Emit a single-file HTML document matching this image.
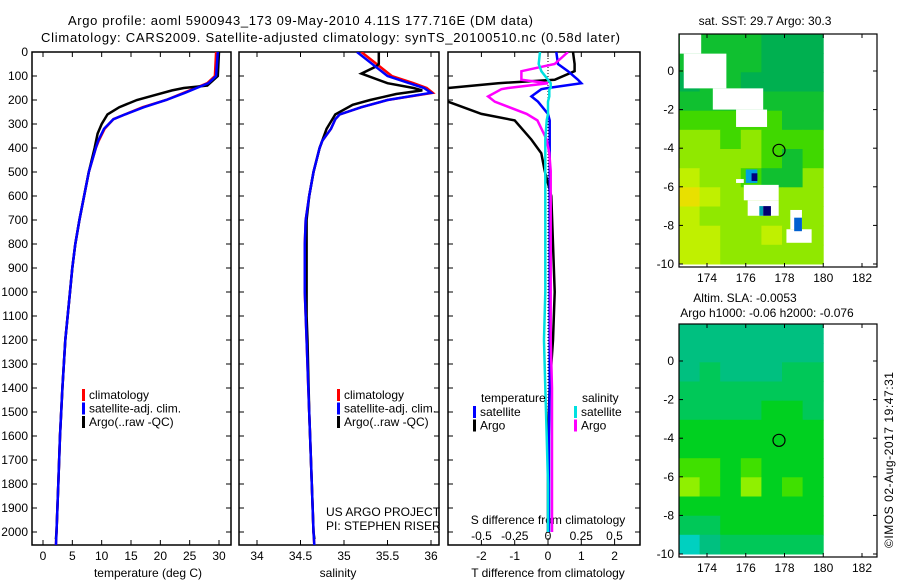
<!DOCTYPE html>
<html><head><meta charset="utf-8"><style>
html,body{margin:0;padding:0;background:#fff;}
svg{display:block;font-family:"Liberation Sans",sans-serif;}
text{font-size:12px;fill:#000;}
</style></head><body>
<svg id="chart" width="900" height="580" viewBox="0 0 900 580">
<defs>
<clipPath id="c1"><rect x="32" y="52" width="199" height="493"/></clipPath>
<clipPath id="c2"><rect x="239" y="52" width="200" height="493"/></clipPath>
<clipPath id="c3"><rect x="448" y="52" width="192" height="493"/></clipPath>
</defs>
<text x="68" y="25" textLength="465" style="font-size:13px">Argo profile: aoml 5900943_173 09-May-2010 4.11S 177.716E (DM data)</text>
<text x="41" y="42" textLength="579" style="font-size:13px">Climatology: CARS2009. Satellite-adjusted climatology: synTS_20100510.nc (0.58d later)</text>
<g id="g"></g>
<text transform="translate(893,548) rotate(-90)" style="font-size:12px" textLength="176">©IMOS 02-Aug-2017 19:47:31</text>
</svg>
<script>
// ---- data ----
const depthTicks=[0,100,200,300,400,500,600,700,800,900,1000,1100,1200,1300,1400,1500,1600,1700,1800,1900,2000];
const tTicks=[0,5,10,15,20,25,30];
const sTicks=[34,34.5,35,35.5,36];
const sTickLabels=["34","34.5","35","35.5","36"];
const dtTicks=[-2,-1,0,1,2];
const dsTicks=[-0.5,-0.25,0,0.25,0.5];
const dsTickLabels=["-0.5","-0.25","0","0.25","0.5"];
const lonTicks=[174,176,178,180,182];
const latTicks=[0,-2,-4,-6,-8,-10];

const climDepth=[0,100,130,150,170,200,230,260,280,320,370,400,500,600,700,800,900,1000,1200,1400,1600,1800,2000,2060];
const climT=[29.5,29.3,28,26,24,21,17,14,12,10.5,9.5,9,7.8,7,6.2,5.5,5,4.6,3.8,3.3,2.9,2.6,2.3,2.2];
const satT=[29.8,29.5,28.2,26.2,24.2,21,17.2,14,12,10.4,9.4,9,7.8,7,6.2,5.5,5,4.6,3.8,3.3,2.9,2.6,2.3,2.2];
const argoDepth=[0,100,140,150,160,180,200,230,260,300,340,400,500,600,700,800,900,1000,1200,1400,1600,1800,2000,2030];
const argoT=[30,29.8,28,24,22,19,16,13,11,10,9.3,8.8,7.8,7,6.2,5.5,5,4.6,3.8,3.3,2.9,2.6,2.3,2.2];

const climS=[35.2,35.55,35.8,35.95,36.02,35.5,35.2,34.95,34.9,34.85,34.75,34.72,34.65,34.6,34.56,34.55,34.55,34.55,34.57,34.59,34.61,34.63,34.65,34.66];
const satS=[35.15,35.5,35.75,35.92,36.0,35.5,35.2,34.95,34.9,34.85,34.75,34.72,34.65,34.6,34.56,34.55,34.55,34.55,34.57,34.59,34.61,34.63,34.65,34.66];
const argoSDepth=[0,50,60,90,130,150,160,175,200,220,260,320,400,500,600,700,1100,1200,1500,1800,2000,2030];
const argoS=[35.4,35.4,35.37,35.2,35.5,35.8,35.9,35.6,35.3,35.1,34.9,34.8,34.72,34.65,34.6,34.57,34.57,34.58,34.6,34.63,34.65,34.66];

const dDepth=[0,50,80,116,130,150,155,185,207,258,285,365,422,495,600,800,1000,1200,1400,1600,1800,2000];
const dTargo=[0.75,0.8,0.8,0.2,-1.5,-3,-3.2,-3.2,-3,-2,-1,-0.5,-0.2,-0.1,0.1,0.15,0.2,0.15,0.05,0,0,0];
const dTsat=[0.25,0.3,0.6,0.9,1.0,0,-0.2,-0.5,-0.3,0,0.05,0.05,0.05,0.05,0.05,0.05,0.05,0.05,0.05,0.03,0.03,0.03];
const dSargo=[0.15,0.05,-0.2,-0.2,0,-0.3,-0.35,-0.45,-0.4,-0.16,-0.08,-0.01,0.01,0.02,0.02,0.02,0.02,0.02,0.03,0.03,0.03,0.03];
const dSsat=[-0.06,-0.07,-0.05,0,0.02,0.02,0.01,0.01,0,0,-0.01,-0.02,-0.02,-0.02,-0.02,-0.02,-0.02,-0.03,-0.02,-0.01,0,0];

const sstPalette=["#00c8a0","#00b050","#10c030","#40d800","#90e800","#c0f000","#e8e000","#f0c000"];
const sstGrid=[
[2,2,2,2,1,1,1],[2,2,2,2,1,1,1],[1,2,2,1,1,1,1],[2,2,2,2,2,2,2],
[3,3,3,3,3,2,2],[4,4,3,4,3,3,3],[4,4,4,4,3,2,3],[5,4,4,3,2,2,4],
[6,5,4,4,4,4,4],[5,4,4,4,4,4,4],[5,5,4,4,5,4,4],[5,5,4,4,4,4,4]];
const slaPalette=["#00d0c0","#00c080","#00c858","#00d020","#40e000","#90f000"];
const slaGrid=[
[1,1,1,1,1,1,1],[1,1,1,1,1,1,1],[1,2,1,1,1,2,2],[2,2,2,2,2,2,2],
[2,2,2,2,3,3,2],[3,3,3,3,3,3,3],[3,3,3,3,3,3,3],[4,4,3,4,3,3,3],
[5,4,3,5,3,4,3],[3,3,3,3,3,3,3],[2,2,3,3,3,3,3],[0,1,2,2,2,2,2]];
// white (no data) patches: lon0,lon1,lat0,lat1
const sstMask=[[172.6,173.7,1.9,0.9],[172.8,175,0.9,-0.9],[174.3,176.9,-0.9,-2],[175.5,177.1,-2,-2.9],
[175.9,177.7,-5.9,-6.7],[176.1,177.7,-6.7,-7.5],[175.5,175.9,-5.6,-5.8],[178.3,178.9,-7.2,-8.2],[178.1,179.4,-8.2,-8.9]];
const sstSpots=[[176,176.6,-5.1,-5.8,"#00a0e0"],[176.3,176.6,-5.3,-5.7,"#000080"],[176.7,176.9,-7,-7.5,"#00a0b0"],[176.9,177.3,-7,-7.5,"#000070"],[178.5,178.9,-7.6,-8.3,"#0060d0"]];
const argoLon=177.716, argoLat=-4.11;

// ---- drawing ----
const NS="http://www.w3.org/2000/svg";
const G=document.getElementById('g');
function mk(tag,at,parent){const e=document.createElementNS(NS,tag);for(const k in at)e.setAttribute(k,at[k]);(parent||G).appendChild(e);return e;}
const yD=d=>52+d*0.24;
const xT=t=>43+t*5.867;
const xS=s=>257+(s-34)*87;
const xDT=v=>548+v*33.3;
const xDS=v=>548+v*133;

function frame(x0,x1,name){
  const r=mk('rect',{x:x0,y:52,width:x1-x0,height:493,fill:'none',stroke:'#000','stroke-width':1.5});
  
  
  depthTicks.forEach(d=>{mk('line',{x1:x0,x2:x0+5,y1:yD(d),y2:yD(d),stroke:'#000'});mk('line',{x1:x1,x2:x1-5,y1:yD(d),y2:yD(d),stroke:'#000'});});
}
function line(xs,ds,xf,color,clip,name){
  const pts=xs.map((v,i)=>xf(v).toFixed(1)+','+yD(ds[i]).toFixed(1)).join(' ');
  const p=mk('polyline',{points:pts,fill:'none',stroke:color,'stroke-width':2.5,'clip-path':'url(#'+clip+')'});
  
  
}
function txt(x,y,s,anchor,name,size){const t=mk('text',{x:x,y:y,'text-anchor':anchor||'start'});if(size)t.style.fontSize=size+'px';t.textContent=s;return t;}
function xtick(x,lab,name,top){mk('line',{x1:x,x2:x,y1:545,y2:540,stroke:'#000'});if(top!==false)mk('line',{x1:x,x2:x,y1:52,y2:57,stroke:'#000'});if(lab!==null)txt(x,560,lab,'middle',name);}

// panel 1
frame(32,231,'temperature-panel');
depthTicks.forEach(d=>txt(28,yD(d)+4,String(d),'end','depth-tick-label'));
tTicks.forEach(t=>xtick(xT(t),String(t),'temperature-tick-label'));
txt(148,577,'temperature (deg C)','middle','temperature-axis-title');
line(climT,climDepth,xT,'#ff0000','c1','climatology-temperature-line');
line(argoT,argoDepth,xT,'#000','c1','argo-temperature-line');
line(satT,climDepth,xT,'#0000ff','c1','satellite-temperature-line');
function legend(x,y,items,pre){items.forEach((it,i)=>{const yy=y+i*13.5;const m=mk('rect',{x:x,y:yy-9,width:3,height:12,fill:it[1]});txt(x+7,yy+1,it[0],'start',pre+'-label');});}
legend(82,398,[['climatology','#ff0000'],['satellite-adj. clim.','#0000ff'],['Argo(..raw -QC)','#000']],'temperature-legend');

// panel 2
frame(239,439,'salinity-panel');
sTicks.forEach((s,i)=>xtick(xS(s),sTickLabels[i],'salinity-tick-label'));
txt(338,577,'salinity','middle','salinity-axis-title');
line(climS,climDepth,xS,'#ff0000','c2','climatology-salinity-line');
line(argoS,argoSDepth,xS,'#000','c2','argo-salinity-line');
line(satS,climDepth,xS,'#0000ff','c2','satellite-salinity-line');
legend(337,398,[['climatology','#ff0000'],['satellite-adj. clim.','#0000ff'],['Argo(..raw -QC)','#000']],'salinity-legend');
txt(326,516,'US ARGO PROJECT','start','project-credit');
txt(326,530,'PI: STEPHEN RISER','start','pi-credit');

// panel 3
frame(448,640,'difference-panel');
dtTicks.forEach(v=>xtick(xDT(v),String(v),'t-diff-tick-label'));
dsTicks.forEach((v,i)=>txt(xDS(v),540,dsTickLabels[i],'middle','s-diff-tick-label'));
txt(548,524,'S difference from climatology','middle','s-diff-axis-title');
txt(548,577,'T difference from climatology','middle','t-diff-axis-title');
mk('line',{x1:548,x2:548,y1:52,y2:545,stroke:'#000','stroke-dasharray':'1,2','stroke-width':1});
line(dTargo,dDepth,xDT,'#000','c3','argo-t-diff-line');
line(dTsat,dDepth,xDT,'#0000ff','c3','satellite-t-diff-line');
line(dSargo,dDepth,xDS,'#ff00ff','c3','argo-s-diff-line');
line(dSsat,dDepth,xDS,'#00e0e0','c3','satellite-s-diff-line');
txt(481,402,'temperature','start','diff-legend-temperature-heading');
txt(582,402,'salinity','start','diff-legend-salinity-heading');
legend(473,415,[['satellite','#0000ff'],['Argo','#000']],'diff-legend-temperature');
legend(574,415,[['satellite','#00e0e0'],['Argo','#ff00ff']],'diff-legend-salinity');

// maps
const xL=l=>707+(l-174)*19.375;
function map(y0,grid,pal,name,mask,spots){
  const yLa=la=>y0+37-la*19.3;
  const top=y0, bot=y0+233;
  const cw=(xL(180)-679)/7, latTop=(37)/19.3;
  grid.forEach((row,r)=>row.forEach((v,c)=>{
    const la0=latTop-r*(latTop+10)/12;
    const h=(latTop+10)/12*19.3;
    const e=mk('rect',{x:(679+c*cw).toFixed(1),y:yLa(la0).toFixed(1),width:(cw+0.5).toFixed(1),height:(h+0.5).toFixed(1),fill:pal[v]});
    
    
  }));
  (mask||[]).forEach(m=>mk('rect',{x:xL(m[0]),y:yLa(m[2]),width:xL(m[1])-xL(m[0]),height:yLa(m[3])-yLa(m[2]),fill:'#fff'}));
  (spots||[]).forEach(m=>mk('rect',{x:xL(m[0]),y:yLa(m[2]),width:xL(m[1])-xL(m[0]),height:yLa(m[3])-yLa(m[2]),fill:m[4]}));
  const f=mk('rect',{x:679,y:top,width:198,height:233,fill:'none',stroke:'#000','stroke-width':1.2});
  
  
  lonTicks.forEach(l=>{mk('line',{x1:xL(l),x2:xL(l),y1:top,y2:top+4,stroke:'#000'});mk('line',{x1:xL(l),x2:xL(l),y1:bot,y2:bot-4,stroke:'#000'});txt(xL(l),bot+15,String(l),'middle',name+'-lon-label');});
  latTicks.forEach(la=>{mk('line',{x1:679,x2:683,y1:yLa(la),y2:yLa(la),stroke:'#000'});mk('line',{x1:877,x2:873,y1:yLa(la),y2:yLa(la),stroke:'#000'});txt(674,yLa(la)+4,String(la),'end',name+'-lat-label');});
  const c=mk('circle',{cx:xL(argoLon),cy:yLa(argoLat),r:6,fill:'none',stroke:'#000','stroke-width':1.2});
  
  
}
map(34,sstGrid,sstPalette,'sst-map',sstMask,sstSpots);
txt(765,25,'sat. SST: 29.7 Argo: 30.3','middle','sst-map-title');
map(324,slaGrid,slaPalette,'sla-map',[],[]);
txt(745,302,'Altim. SLA: -0.0053','middle','sla-map-title');
txt(767,317,'Argo h1000: -0.06 h2000: -0.076','middle','sla-map-subtitle');
</script>
</body></html>
